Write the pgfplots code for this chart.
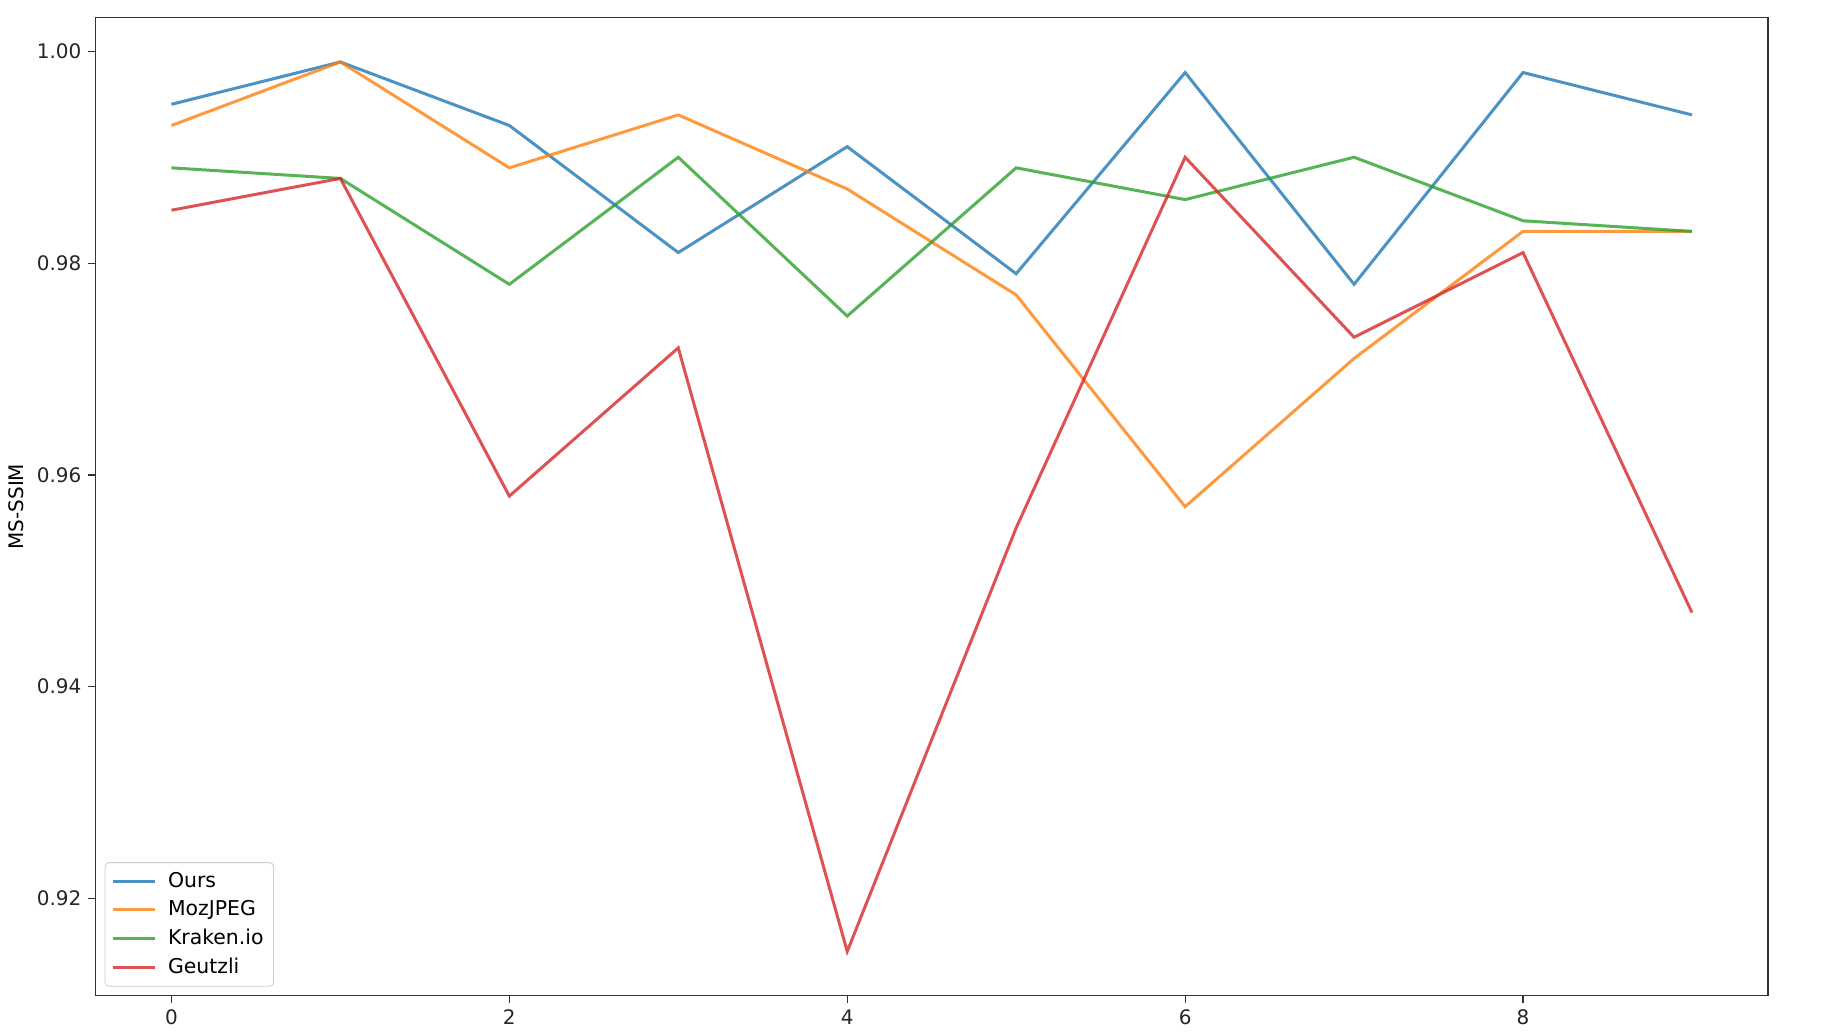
\documentclass[border=0pt]{standalone}
\usepackage{fontspec}
\setmainfont{DejaVu Sans}
\usepackage{pgfplots}
\pgfplotsset{compat=1.18}
\definecolor{c1}{HTML}{1F77B4}
\definecolor{c2}{HTML}{FF7F0E}
\definecolor{c3}{HTML}{2CA02C}
\definecolor{c4}{HTML}{D62728}
\begin{document}
\begin{tikzpicture}
\begin{axis}[
  at={(0,0)}, anchor=south west,
  width=836.3pt, height=489.2pt, scale only axis,
  xmin=-0.45, xmax=9.45, ymin=0.9108, ymax=1.0032,
  xtick={0,2,4,6,8},
  ytick={0.92,0.94,0.96,0.98,1.00},
  yticklabel style={/pgf/number format/.cd, fixed, fixed zerofill, precision=2},
  /pgf/number format/assume math mode=true,
  tick style={black!80, line width=0.6pt},
  tick align=outside, tickpos=left,
  major tick length=3.5pt,
  axis line style={black!80, line width=0.6pt},
  ticklabel style={font=\fontsize{10}{12}\selectfont, text=black!85},
  ylabel={MS-SSIM},
  ylabel style={font=\fontsize{10}{12}\selectfont, text=black!85},
  every axis y label/.style={at={(rel axis cs:0,0.5)}, xshift=-39.5pt, rotate=90, anchor=center},
  legend style={at={(4.6pt,4.6pt)}, anchor=south west, draw=black!20, rounded corners=2pt, fill=white, fill opacity=0.8, text opacity=1, font=\fontsize{10.2}{13}\selectfont, row sep=1.2pt, inner xsep=3pt, inner ysep=2.8pt},
  legend cell align=left,
  legend image code/.code={\draw[#1] (0cm,0cm) -- (0.75cm,0cm); \path (0.88cm,0cm);},
  every axis plot/.append style={line width=1.5pt, opacity=0.8},
]
\addplot[c1] coordinates {(0,0.995)(1,0.999)(2,0.993)(3,0.981)(4,0.991)(5,0.979)(6,0.998)(7,0.978)(8,0.998)(9,0.994)};
\addlegendentry{Ours}
\addplot[c2] coordinates {(0,0.993)(1,0.999)(2,0.989)(3,0.994)(4,0.987)(5,0.977)(6,0.957)(7,0.971)(8,0.983)(9,0.983)};
\addlegendentry{MozJPEG}
\addplot[c3] coordinates {(0,0.989)(1,0.988)(2,0.978)(3,0.990)(4,0.975)(5,0.989)(6,0.986)(7,0.990)(8,0.984)(9,0.983)};
\addlegendentry{Kraken.io}
\addplot[c4] coordinates {(0,0.985)(1,0.988)(2,0.958)(3,0.972)(4,0.915)(5,0.955)(6,0.990)(7,0.973)(8,0.981)(9,0.947)};
\addlegendentry{Geutzli}
\end{axis}
\path (-47.7pt,-20pt) rectangle (864.3pt,497.95pt);
\end{tikzpicture}
\end{document}
